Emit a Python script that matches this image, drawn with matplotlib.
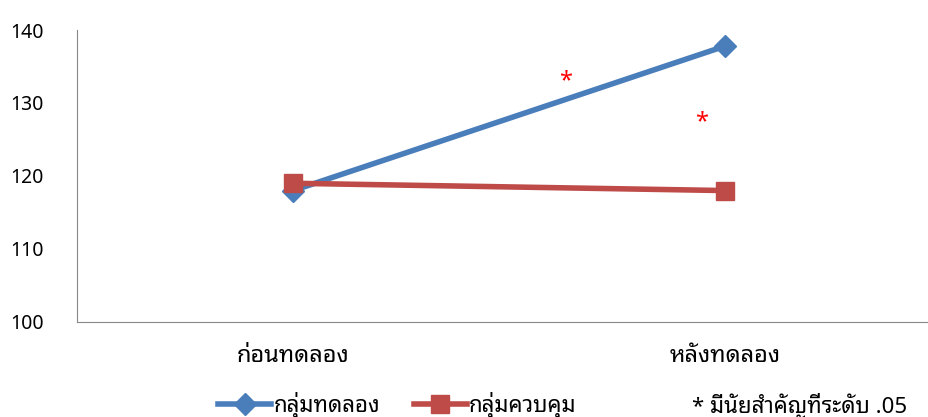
import matplotlib
matplotlib.use("Agg")
from matplotlib import pyplot as plt

# data
categories = ["ก่อนทดลอง", "หลังทดลอง"]
experimental = [118.0, 137.8]
control = [119.0, 118.0]
series_names = ["กลุ่มทดลอง", "กลุ่มควบคุม"]
sig_marks_x = [0.63, 0.945]
sig_marks_y = [133.0, 127.3]
note = "* มีนัยสำคัญที่ระดับ .05"

plt.rcParams['font.family'] = ['Noto Sans Thai Looped', 'Loma', 'DejaVu Sans']

fig = plt.figure(figsize=(9.29, 4.17), dpi=100)
ax = fig.add_axes([0.083, 0.228, 0.93, 0.70])

x = range(len(categories))
ax.plot(x, experimental, color='#4a7ebb', lw=4, marker='D', ms=11, label=series_names[0], zorder=3)
ax.plot(x, control, color='#be4b48', lw=4, marker='s', ms=13, label=series_names[1], zorder=4)

for sx, sy in zip(sig_marks_x, sig_marks_y):
    ax.text(sx, sy, "*", color='red', fontsize=17, fontweight='bold', ha='center', va='center')

ax.set_xlim(-0.5, 1.5)
ax.set_ylim(100, 140)
ax.set_yticks([100, 110, 120, 130, 140])
ax.set_xticks(list(x))
ax.set_xticklabels(categories)
ax.tick_params(axis='y', length=0, labelsize=14, pad=24)
ax.tick_params(axis='x', length=0, labelsize=17, pad=16)
ax.spines['top'].set_visible(False)
ax.spines['right'].set_visible(False)
for s in ['left', 'bottom']:
    ax.spines[s].set_color('#888888')

ax.legend(loc='lower left', bbox_to_anchor=(0.14, -0.40), ncol=2, frameon=False,
          fontsize=16, handlelength=2.4, columnspacing=1.5, handletextpad=0.1)
fig.text(0.745, 0.01, note, fontsize=16)

fig.savefig("out.png", dpi=100)
